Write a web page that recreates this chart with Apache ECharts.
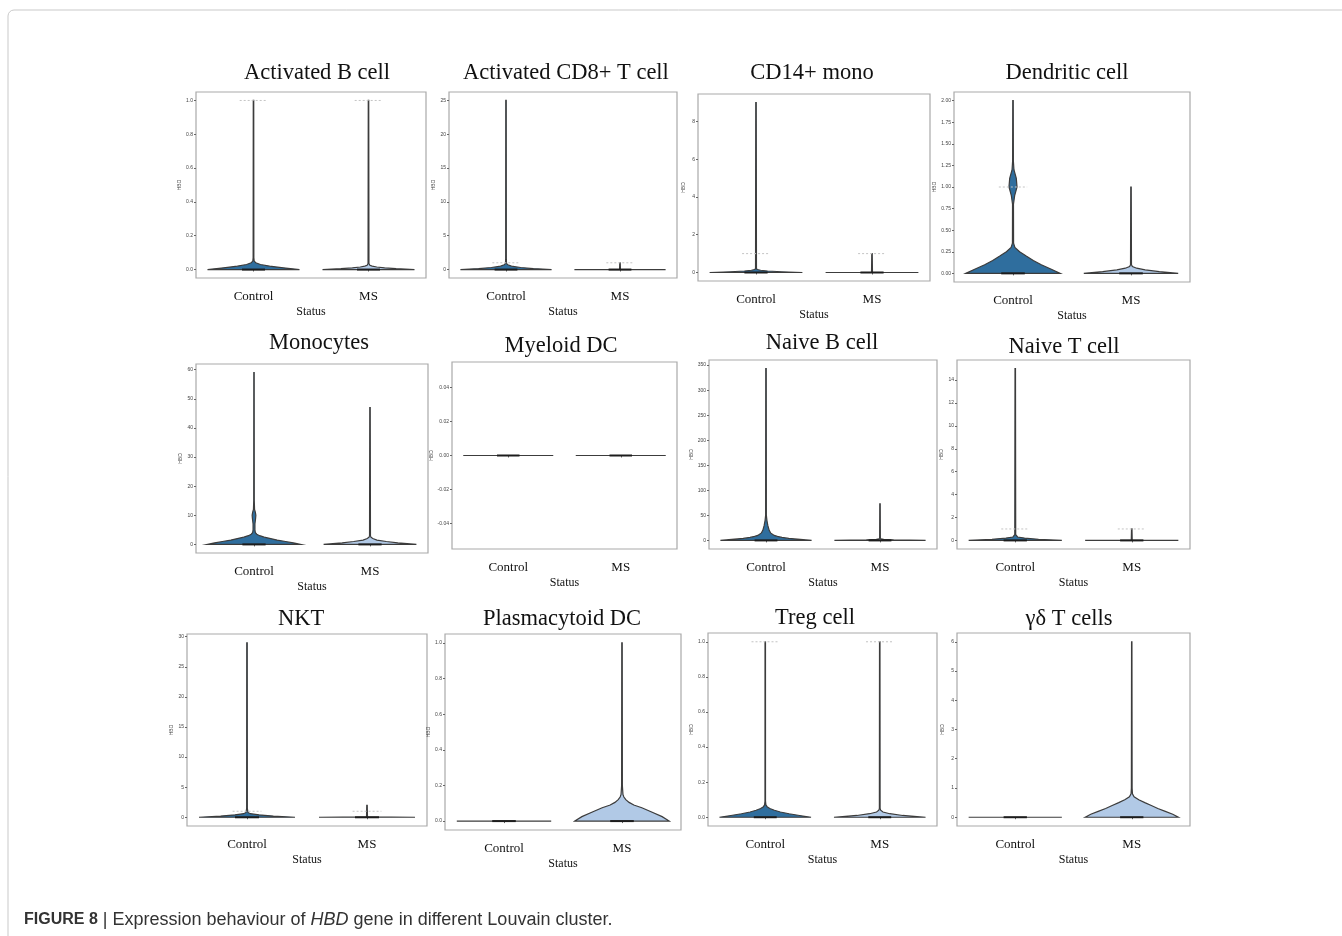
<!DOCTYPE html>
<html>
<head>
<meta charset="utf-8">
<title>HBD expression violins</title>
<script src="https://cdn.jsdelivr.net/npm/echarts@6/dist/echarts.min.js"></script>
<style>
  html, body { margin: 0; padding: 0; background: #fff; }
  #chart { width: 1342px; height: 936px; }
</style>
</head>
<body>
<div id="chart"></div>
<script>
// groups on every x axis
const groups = ['Control', 'MS']
const clusters = ['Activated B cell', 'Activated CD8+ T cell', 'CD14+ mono', 'Dendritic cell',
  'Monocytes', 'Myeloid DC', 'Naive B cell', 'Naive T cell',
  'NKT', 'Plasmacytoid DC', 'Treg cell', 'γδ T cells']

// y tick labels per panel
const ticksActB = ['0.0', '0.2', '0.4', '0.6', '0.8', '1.0']
const ticksActCD8 = ['0', '5', '10', '15', '20', '25']
const ticksCD14 = ['0', '2', '4', '6', '8']
const ticksDend = ['0.00', '0.25', '0.50', '0.75', '1.00', '1.25', '1.50', '1.75', '2.00']
const ticksMono = ['0', '10', '20', '30', '40', '50', '60']
const ticksMyeloid = ['-0.04', '-0.02', '0.00', '0.02', '0.04']
const ticksNaiveB = ['0', '50', '100', '150', '200', '250', '300', '350']
const ticksNaiveT = ['0', '2', '4', '6', '8', '10', '12', '14']
const ticksNKT = ['0', '5', '10', '15', '20', '25', '30']
const ticksPdc = ['0.0', '0.2', '0.4', '0.6', '0.8', '1.0']
const ticksTreg = ['0.0', '0.2', '0.4', '0.6', '0.8', '1.0']
const ticksGd = ['0', '1', '2', '3', '4', '5', '6']

// violin outlines: [HBD value, relative half width]
const actB_control = [[0, 1], [0.01, 0.65], [0.02, 0.35], [0.03, 0.15], [0.04, 0.05], [0.05, 0.015], [0.07, 0.008], [1.0, 0.005]]
const actB_ms = [[0, 1], [0.005, 0.6], [0.01, 0.35], [0.015, 0.18], [0.02, 0.08], [0.025, 0.03], [0.035, 0.01], [1.0, 0.005]]
const actCD8_control = [[0, 1], [0.15, 0.6], [0.3, 0.32], [0.5, 0.12], [0.7, 0.04], [0.9, 0.012], [1.5, 0.007], [25, 0.005]]
const actCD8_ms = [[0, 1], [0.02, 0.01], [1, 0.005]]
const cd14_control = [[0, 1], [0.04, 0.55], [0.08, 0.25], [0.12, 0.1], [0.16, 0.03], [0.2, 0.01], [9, 0.005]]
const cd14_ms = [[0, 1], [0.01, 0.01], [1, 0.005]]
const dend_control = [[0, 1], [0.05, 0.8], [0.1, 0.6], [0.15, 0.43], [0.2, 0.28], [0.25, 0.14], [0.3, 0.04], [0.35, 0.012],
  [0.8, 0.01], [0.9, 0.035], [1.0, 0.085], [1.1, 0.07], [1.2, 0.02], [1.3, 0.008], [2.0, 0.005]]
const dend_ms = [[0, 1], [0.02, 0.6], [0.04, 0.3], [0.06, 0.12], [0.08, 0.03], [0.1, 0.01], [1.0, 0.005]]
const mono_control = [[0, 1], [0.5, 0.85], [1, 0.68], [1.5, 0.5], [2, 0.36], [2.5, 0.22], [3, 0.12], [3.5, 0.06], [4, 0.03],
  [5, 0.02], [7, 0.02], [9, 0.035], [10, 0.04], [11, 0.03], [12, 0.012], [15, 0.006], [59, 0.004]]
const mono_ms = [[0, 1], [0.5, 0.6], [1, 0.35], [1.5, 0.15], [2, 0.06], [2.5, 0.02], [3, 0.01], [47, 0.005]]
const myeloid_control = [[0, 1], [0, 0]]
const myeloid_ms = [[0, 1], [0, 0]]
const naiveB_control = [[0, 1], [2, 0.75], [4, 0.5], [6, 0.35], [8, 0.25], [10, 0.18], [15, 0.1], [20, 0.07], [30, 0.04],
  [40, 0.02], [50, 0.008], [343, 0.005]]
const naiveB_ms = [[0, 1], [1, 0.3], [2, 0.08], [3, 0.02], [5, 0.008], [73, 0.005]]
const naiveT_control = [[0, 1], [0.1, 0.5], [0.2, 0.2], [0.3, 0.05], [0.5, 0.01], [15, 0.005]]
const naiveT_ms = [[0, 1], [0.02, 0.01], [1, 0.005]]
const nkt_control = [[0, 1], [0.2, 0.55], [0.4, 0.25], [0.6, 0.07], [0.8, 0.02], [1.5, 0.007], [29, 0.005]]
const nkt_ms = [[0, 1], [0.05, 0.01], [2, 0.005]]
const pdc_control = [[0, 1], [0, 0]]
const pdc_ms = [[0, 1], [0.025, 0.85], [0.05, 0.64], [0.075, 0.42], [0.09, 0.25], [0.105, 0.15], [0.12, 0.08], [0.135, 0.04],
  [0.15, 0.02], [0.2, 0.008], [1.0, 0.005]]
const treg_control = [[0, 1], [0.01, 0.75], [0.02, 0.52], [0.03, 0.33], [0.04, 0.2], [0.05, 0.1], [0.06, 0.04], [0.07, 0.015],
  [0.09, 0.006], [1, 0.005]]
const treg_ms = [[0, 1], [0.01, 0.5], [0.02, 0.22], [0.03, 0.07], [0.04, 0.02], [0.05, 0.008], [1, 0.005]]
const gd_control = [[0, 1], [0, 0]]
const gd_ms = [[0, 1], [0.1, 0.88], [0.2, 0.72], [0.3, 0.56], [0.4, 0.42], [0.5, 0.28], [0.6, 0.15], [0.7, 0.05], [0.8, 0.015],
  [1.0, 0.008], [6, 0.004]]

// rows of jittered cells sitting on one value: [group, HBD]
const dotsActB = [[0, 1], [1, 1]]
const dotsActCD8 = [[0, 1], [1, 1]]
const dotsCD14 = [[0, 1], [1, 1]]
const dotsDend = [[0, 1]]
const dotsNaiveT = [[0, 1], [1, 1]]
const dotsNKT = [[0, 1], [1, 1]]
const dotsTreg = [[0, 1], [1, 1]]

const panels = [
  { ticks: ticksActB, violins: [actB_control, actB_ms], dots: dotsActB },
  { ticks: ticksActCD8, violins: [actCD8_control, actCD8_ms], dots: dotsActCD8 },
  { ticks: ticksCD14, violins: [cd14_control, cd14_ms], dots: dotsCD14 },
  { ticks: ticksDend, violins: [dend_control, dend_ms], dots: dotsDend },
  { ticks: ticksMono, violins: [mono_control, mono_ms], dots: [] },
  { ticks: ticksMyeloid, violins: [myeloid_control, myeloid_ms], dots: [] },
  { ticks: ticksNaiveB, violins: [naiveB_control, naiveB_ms], dots: [] },
  { ticks: ticksNaiveT, violins: [naiveT_control, naiveT_ms], dots: dotsNaiveT },
  { ticks: ticksNKT, violins: [nkt_control, nkt_ms], dots: dotsNKT },
  { ticks: ticksPdc, violins: [pdc_control, pdc_ms], dots: [] },
  { ticks: ticksTreg, violins: [treg_control, treg_ms], dots: dotsTreg },
  { ticks: ticksGd, violins: [gd_control, gd_ms], dots: [] }
]

// layout: plot box [left, top, width, height] and title centre [x, y]
const frames = [
  [196, 92, 230, 186, 317, 73], [449, 92, 228, 186, 566, 73], [698, 94, 232, 187, 812, 73], [954, 92, 236, 190, 1067, 73],
  [196, 364, 232, 189, 319, 343], [452, 362, 225, 187, 561, 346], [709, 360, 228, 189, 822, 343], [957, 360, 233, 189, 1064, 347],
  [187, 634, 240, 192, 301, 619], [445, 634, 236, 196, 562, 619], [708, 633, 229, 193, 815, 618], [957, 633, 233, 193, 1069, 619]
]

const fills = ['#2f6e9e', '#b1c9e6']
const serif = "'Liberation Serif', 'DejaVu Serif', serif"
const sans = "'Liberation Sans', Arial, sans-serif"

let chart = echarts.init(document.getElementById('chart'))

function violinRender (profiles) {
  return function (params, api) {
    let g = api.value(0)
    let prof = profiles[g]
    let band = api.size([1, 0])[0]
    let half = band * 0.4
    let left = []
    let right = []
    prof.forEach(function (p) {
      let pt = api.coord([g, p[0]])
      left.push([pt[0] - p[1] * half, pt[1]])
      right.unshift([pt[0] + p[1] * half, pt[1]])
    })
    let base = api.coord([g, 0])
    return {
      type: 'group',
      children: [
        {
          type: 'polygon',
          shape: { points: left.concat(right) },
          style: { fill: fills[g], stroke: '#3c3c3c', lineWidth: 1.2 }
        },
        {
          // stacked strip points at zero
          type: 'line',
          shape: { x1: base[0] - band * 0.1, y1: base[1], x2: base[0] + band * 0.1, y2: base[1] },
          style: { stroke: '#1c1c1c', lineWidth: 2 }
        }
      ]
    }
  }
}

function dotsRender (params, api) {
  let pt = api.coord([api.value(0), api.value(1)])
  let band = api.size([1, 0])[0]
  return {
    type: 'line',
    shape: { x1: pt[0] - band * 0.12, y1: pt[1], x2: pt[0] + band * 0.12, y2: pt[1] },
    style: { stroke: '#c4c4c4', lineWidth: 1, lineDash: [2, 2] }
  }
}

let grids = []
let xAxes = []
let yAxes = []
let series = []
let graphics = []

panels.forEach(function (p, i) {
  let f = frames[i]
  let tickVals = p.ticks.map(Number)
  let top = Math.max.apply(null, p.violins.map(function (v) { return v[v.length - 1][0] }))
  let lo = top > 0 ? -0.05 * top : -0.055
  let hi = top > 0 ? 1.05 * top : 0.055

  grids.push({
    left: f[0], top: f[1], width: f[2], height: f[3],
    show: true, borderColor: '#a9a9a9', borderWidth: 1.2
  })
  xAxes.push({
    gridIndex: i,
    type: 'category',
    data: groups,
    name: 'Status',
    nameLocation: 'middle',
    nameGap: 28,
    nameTextStyle: { fontFamily: serif, fontSize: 12, color: '#111' },
    axisLine: { show: false },
    axisTick: { show: true, alignWithLabel: true, length: 2, lineStyle: { color: '#666' } },
    axisLabel: { fontFamily: serif, fontSize: 13, color: '#111', margin: 12 }
  })
  yAxes.push({
    gridIndex: i,
    type: 'value',
    min: lo,
    max: hi,
    name: 'HBD',
    nameLocation: 'middle',
    nameGap: 12,
    nameTextStyle: { fontSize: 5, color: '#444' },
    axisLine: { show: false },
    splitLine: { show: false },
    axisTick: { show: true, length: 2, customValues: tickVals, lineStyle: { color: '#666' } },
    axisLabel: {
      fontSize: 5,
      color: '#444',
      margin: 3,
      customValues: tickVals,
      formatter: function (v) {
        let k = tickVals.findIndex(function (t) { return Math.abs(t - v) < 1e-9 })
        return k >= 0 ? p.ticks[k] : ''
      }
    }
  })
  series.push({
    type: 'custom',
    xAxisIndex: i,
    yAxisIndex: i,
    renderItem: violinRender(p.violins),
    encode: { x: 0, y: 1 },
    data: p.violins.map(function (v, g) { return [g, v[v.length - 1][0]] }),
    silent: true
  })
  if (p.dots.length) {
    series.push({
      type: 'custom',
      xAxisIndex: i,
      yAxisIndex: i,
      renderItem: dotsRender,
      encode: { x: 0, y: 1 },
      data: p.dots,
      silent: true
    })
  }
  graphics.push({
    type: 'text',
    x: f[4],
    y: f[5],
    style: {
      text: clusters[i],
      align: 'center',
      verticalAlign: 'middle',
      fontFamily: serif,
      fontSize: 22.5,
      fill: '#111'
    }
  })
})

// outer figure border
graphics.push({
  type: 'rect',
  shape: { x: 8, y: 10, width: 1400, height: 1000, r: 6 },
  style: { fill: 'none', stroke: '#c9c9c9', lineWidth: 1 },
  silent: true
})
// caption
graphics.push({
  type: 'text',
  x: 24,
  y: 920,
  style: {
    text: '{b|FIGURE 8} | Expression behaviour of {i|HBD} gene in different Louvain cluster.',
    verticalAlign: 'middle',
    fontFamily: sans,
    fontSize: 18,
    fill: '#333',
    rich: {
      b: { fontFamily: sans, fontSize: 16, fontWeight: 'bold', fill: '#333' },
      i: { fontFamily: sans, fontSize: 18, fontStyle: 'italic', fill: '#333' }
    }
  }
})

chart.setOption({
  animation: false,
  grid: grids,
  xAxis: xAxes,
  yAxis: yAxes,
  series: series,
  graphic: graphics
})
</script>
</body>
</html>
